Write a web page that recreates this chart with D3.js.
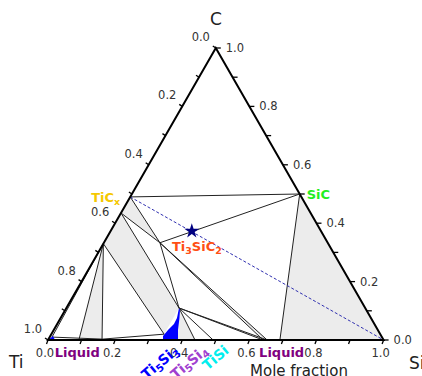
<!DOCTYPE html>
<meta charset="utf-8">
<style>
    body { margin: 0; background: #fff; }
    svg { font-family: "DejaVu Sans", sans-serif; }
    .edge { fill: none; stroke: #000; stroke-width: 2; }
    .tie { fill: none; stroke: #222; stroke-width: 1; }
    .twophase { fill: #ececec; stroke: none; }
    .tick { stroke: #000; stroke-width: 1.3; }
    .ticklabel { font-size: 11.5px; fill: #333; }
    .phase { font-size: 13px; font-weight: bold; }
</style>

<svg width="422" height="376"></svg>

<script src="https://d3js.org/d3.v7.min.js"></script>

<script>
// compositions are [x_Si, x_C], x_Ti = 1 - x_Si - x_C
var TiC_hi = [0, 0.49],
    TiC_mid = [0, 0.435],
    TiC_lo = [0, 0.33],
    SiC = [0.5, 0.5],
    Ti3SiC2 = [0.167, 0.333],
    Ti5Si3_top = [0.3355, 0.1096],
    Ti5Si3_low = [0.336, 0.02],
    Ti_near = [0.007, 0.01],
    Liq_Ti1 = [0.092, 0],
    Liq_Ti2 = [0.161, 0.003],
    Liq_Ti2b = [0.161, 0],
    Ti5Si4 = [0.438, 0],
    TiSi = [0.492, 0],
    TiSi2a = [0.641, 0],
    TiSi2b = [0.653, 0],
    Liq_Si = [0.691, 0],
    Si = [1, 0],
    Ti = [0, 0],
    star = [0.242, 0.373];

var tieLines = [
    [TiC_hi, SiC], [SiC, Ti3SiC2], [TiC_hi, Ti3SiC2], [TiC_mid, Ti3SiC2],
    [TiC_mid, Ti5Si3_top], [Ti3SiC2, Ti5Si3_top], [TiC_lo, Ti5Si3_low],
    [TiC_lo, Liq_Ti2b], [TiC_lo, Liq_Ti1], [TiC_lo, Ti_near],
    [Ti_near, Liq_Ti2], [Liq_Ti2, Ti5Si3_low],
    [Ti5Si3_top, Ti5Si4], [Ti5Si3_top, TiSi],
    [Ti5Si3_top, TiSi2a], [Ti5Si3_top, TiSi2b],
    [Ti3SiC2, TiSi2a], [Ti3SiC2, TiSi2b],
    [SiC, Liq_Si]
];

var grayRegions = [
    [SiC, Liq_Si, Si],
    [TiC_hi, TiC_mid, Ti3SiC2],
    [TiC_mid, Ti5Si3_top, Ti5Si3_low, TiC_lo],
    [TiC_lo, Liq_Ti1, Liq_Ti2b],
    [TiC_lo, Ti_near, Ti],
    [Ti5Si3_top, TiSi2a, TiSi2b],
    [Ti3SiC2, TiSi2a, TiSi2b],
    [Ti5Si3_top, [0.3874, 0], Ti5Si4]
];

// Ti5Si3Cx single phase field
var Ti5Si3Cx = [[0.3355, 0.1096], [0.3467, 0.0753], [0.348, 0.0548], [0.3405, 0.0342],
    [0.3359, 0.0137], [0.3427, 0], [0.3874, 0], [0.3703, 0.0342], [0.3541, 0.0753],
    [0.3419, 0.1027]];
var TiSolid = [[0, 0], [0.008, 0.0137], [0.021, 0]];

var ticks = d3.range(0, 1.0001, 0.1);
var tickLabels = ["0.0", "0.2", "0.4", "0.6", "0.8", "1.0"];

var svg = d3.select("svg");

var sx = d3.scaleLinear().domain([0, 1]).range([48, 383.6]),
    sy = d3.scaleLinear().domain([0, 1]).range([340, 48]);

function proj(p) {
    return [sx(p[0] + p[1] / 2), sy(p[1])];
}
var line = d3.line().x(function(d) { return proj(d)[0]; }).y(function(d) { return proj(d)[1]; });

svg.append("g").selectAll("path")
    .data(grayRegions).enter()
    .append("path").attr("class", "twophase")
    .attr("d", function(d) { return line(d) + "Z"; });

svg.append("g").selectAll("path")
    .data(tieLines).enter()
    .append("path").attr("class", "tie")
    .attr("d", line);

svg.append("path").attr("d", line(Ti5Si3Cx) + "Z").attr("fill", "#0000ff");
svg.append("path").attr("d", line(TiSolid) + "Z").attr("fill", "#0000ff");

// dashed line TiCx -> Si
svg.append("path").attr("d", line([TiC_hi, Si]))
    .attr("fill", "none").attr("stroke", "#3030b0")
    .attr("stroke-width", 1).attr("stroke-dasharray", "3,2");

svg.append("path")
    .attr("d", d3.symbol().type(d3.symbolStar).size(70)())
    .attr("transform", "translate(" + proj(star) + ")")
    .attr("fill", "#000080");

// triangle edges
svg.append("path").attr("class", "edge")
    .attr("d", line([Ti, Si, [0, 1]]) + "Z");

// ticks
var tk = svg.append("g");
ticks.forEach(function(t, i) {
    var b = proj([t, 0]);                 // bottom: x_Si
    tk.append("line").attr("class", "tick")
        .attr("x1", b[0]).attr("y1", b[1]).attr("x2", b[0] - 1.5).attr("y2", b[1] + 4);
    var r = proj([1 - t, t]);             // right: x_C
    tk.append("line").attr("class", "tick")
        .attr("x1", r[0]).attr("y1", r[1]).attr("x2", r[0] + 5).attr("y2", r[1]);
    var l = proj([0, 1 - t]);             // left: x_Ti
    tk.append("line").attr("class", "tick")
        .attr("x1", l[0]).attr("y1", l[1]).attr("x2", l[0] - 3).attr("y2", l[1] - 2);
    if (i % 2 === 0) {
        var lab = tickLabels[i / 2];
        tk.append("text").attr("class", "ticklabel")
            .attr("x", b[0] - 3).attr("y", b[1] + 17)
            .attr("text-anchor", "middle").text(lab);
        tk.append("text").attr("class", "ticklabel")
            .attr("x", r[0] + 10).attr("y", r[1] + 4)
            .text(lab);
        tk.append("text").attr("class", "ticklabel")
            .attr("x", l[0] - 15).attr("y", l[1] - 7)
            .attr("text-anchor", "middle").text(lab);
    }
});

// corner labels
svg.append("text").attr("x", 216).attr("y", 25).attr("text-anchor", "middle")
    .attr("font-size", 17).attr("fill", "#222").text("C");
svg.append("text").attr("x", 9).attr("y", 368)
    .attr("font-size", 17).attr("fill", "#222").text("Ti");
svg.append("text").attr("x", 409).attr("y", 369)
    .attr("font-size", 17).attr("fill", "#222").text("Si");
svg.append("text").attr("x", 299).attr("y", 376).attr("text-anchor", "middle")
    .attr("font-size", 15).attr("fill", "#222").text("Mole fraction");

// phase labels
function phaseLabel(parts, x, y, color, anchor, rot, size) {
    var t = svg.append("text").attr("class", "phase")
        .attr("fill", color).attr("text-anchor", anchor || "start")
        .attr("transform", "translate(" + x + "," + y + ")" + (rot ? " rotate(" + rot + ")" : ""));
    if (size) t.style("font-size", size + "px");
    parts.forEach(function(p) {
        var s = t.append("tspan").text(p[0]);
        if (p[1]) s.attr("font-size", (size || 13) * 0.73).attr("dy", 3);
        else if (p[2]) s.attr("dy", -3);
    });
}
var pc = proj(TiC_hi), ps = proj(SiC), pt = proj(Ti3SiC2);
phaseLabel([["TiC"], ["x", 1]], pc[0] - 10, pc[1] + 5, "#f5c800", "end");
phaseLabel([["SiC"]], ps[0] + 7, ps[1] + 5, "#22ee22");
phaseLabel([["Ti"], ["3", 1], ["SiC", 0, 1], ["2", 1]], pt[0] + 12, pt[1] + 8, "#ff4f14");
phaseLabel([["Liquid"]], proj([0.02, 0])[0], 357, "#800080");
phaseLabel([["Liquid"]], proj([0.629, 0])[0], 357, "#800080");
phaseLabel([["Ti"], ["5", 1], ["Si", 0, 1], ["3", 1]], proj([0.375, 0])[0] + 6, 352, "#0000ff", "end", -40, 14);
phaseLabel([["Ti"], ["5", 1], ["Si", 0, 1], ["4", 1]], proj([0.444, 0])[0] + 12, 352, "#a040d0", "end", -40, 14);
phaseLabel([["TiSi"]], proj([0.5, 0])[0] + 14, 352, "#00eeee", "end", -40, 14);
</script>
